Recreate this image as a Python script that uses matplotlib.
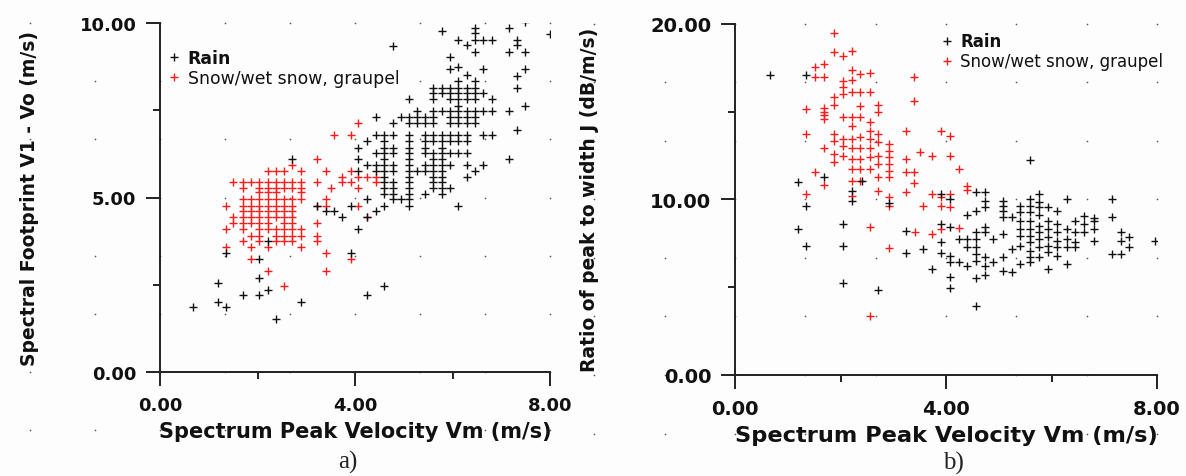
import matplotlib
matplotlib.use("Agg")
import matplotlib.pyplot as plt
from matplotlib.lines import Line2D

# ---------------- data ----------------
# rows: (y value, [x values])
# Panel a: Spectral footprint V1 - Vo vs spectrum peak velocity Vm
rain_a_rows = [
    (10.02, [7.49]), (9.85, [6.46, 7.15]), (9.78, [5.78]), (9.70, [6.46]), (9.68, [8.00]),
    (9.52, [6.12, 6.46, 6.63, 6.80, 7.32]), (9.37, [6.29, 7.32]), (9.35, [4.77]),
    (9.16, [6.46, 7.15, 7.49]), (9.02, [5.95]), (8.73, [6.12]), (8.68, [5.95, 6.63, 7.49]),
    (8.50, [6.29]), (8.49, [7.32]), (8.34, [6.12, 6.46]),
    (8.15, [5.61, 5.78, 5.95, 6.12, 6.29, 6.46, 7.32]),
    (8.00, [5.61, 5.78, 5.95, 6.12, 6.29, 6.46, 6.63]),
    (7.82, [5.11, 5.61, 5.95, 6.12, 6.29, 6.46, 6.80]),
    (7.63, [6.12, 7.49]),
    (7.47, [5.28, 5.61, 5.78, 5.95, 6.12, 6.29, 6.46, 6.63, 6.80, 7.15]),
    (7.30, [4.43, 4.94, 5.11, 5.28, 5.44, 5.61, 5.95, 6.12, 6.29, 6.46]),
    (7.13, [4.77, 5.11, 5.28, 5.44, 5.61, 5.95, 6.12, 6.29, 6.46]),
    (6.94, [7.32]),
    (6.79, [4.43, 4.59, 4.77, 5.11, 5.44, 5.61, 5.78, 5.95, 6.12, 6.29, 6.63, 6.80]),
    (6.61, [4.24, 4.59, 5.11, 5.44, 5.61, 5.78, 5.95, 6.12, 6.29]),
    (6.43, [4.07, 4.59, 4.77, 5.11, 5.44, 5.78]),
    (6.27, [4.43, 4.59, 4.77, 5.11, 5.44, 5.61, 5.78, 5.95, 6.12, 6.29]),
    (6.10, [2.71, 4.07, 4.59, 5.11, 5.61, 5.78, 7.15]),
    (5.94, [4.24, 4.43, 4.59, 4.77, 5.11, 5.44, 5.61, 5.78, 5.95, 6.29, 6.63]),
    (5.76, [4.07, 4.43, 4.59, 4.77, 5.11, 5.28, 5.44, 5.61, 5.78, 6.46]),
    (5.60, [4.59, 5.11, 5.61, 5.78, 6.29]),
    (5.43, [4.59, 4.77, 5.11, 5.61, 5.78]),
    (5.27, [4.59, 4.77, 5.11, 5.61, 5.78, 5.95]),
    (5.10, [4.59, 4.77, 5.11, 5.44, 5.78]),
    (4.95, [4.24, 4.77, 4.94, 5.11]),
    (4.76, [3.23, 3.91, 4.59, 5.11, 6.12]),
    (4.60, [3.41, 3.57, 4.43]),
    (4.43, [3.74, 4.24]),
    (4.09, [4.07]),
    (3.76, [2.21]),
    (3.40, [1.35, 3.91]),
    (3.23, [2.04]),
    (2.70, [2.04]),
    (2.54, [1.18]),
    (2.45, [4.59]),
    (2.35, [2.21]),
    (2.21, [1.70, 2.04, 4.24]),
    (2.02, [1.18, 2.89]),
    (1.87, [0.68, 1.35]),
    (1.53, [2.37]),
]
snow_a_rows = [
    (7.13, [4.07]), (6.79, [3.57, 3.91]), (6.10, [3.23]), (5.94, [2.71]),
    (5.76, [2.21, 2.37, 2.54, 2.89, 3.41, 3.91]),
    (5.60, [3.74, 4.07, 4.24, 4.43]),
    (5.44, [1.50, 1.70, 1.86, 2.04, 2.21, 2.37, 2.54, 2.71, 2.89, 3.23, 3.74, 3.91, 4.43]),
    (5.27, [1.70, 2.04, 2.21, 2.37, 2.54, 2.71, 2.89, 3.51, 4.07]),
    (5.15, [2.04, 2.21, 2.37, 2.89]),
    (4.95, [1.70, 1.86, 2.04, 2.21, 2.37, 2.54, 2.71, 2.89, 3.41]),
    (4.76, [1.35, 1.70, 1.86, 2.04, 2.21, 2.37, 2.54, 2.71, 3.23, 3.41, 4.07]),
    (4.60, [1.70, 1.86, 2.04, 2.21, 2.37, 2.54, 2.71]),
    (4.43, [1.50, 1.70, 1.86, 2.04, 2.21, 2.37, 2.54, 2.71, 4.24]),
    (4.26, [1.50, 1.70, 1.86, 2.04, 2.21, 2.54, 2.71, 3.23]),
    (4.09, [1.35, 1.70, 2.04, 2.21, 2.37, 2.54, 2.71, 2.89]),
    (3.90, [1.86, 2.04, 2.37, 2.54, 2.71, 2.89, 3.23]),
    (3.76, [1.70, 2.04, 2.37, 2.54, 2.71, 3.23]),
    (3.57, [1.35, 1.86, 2.21, 2.89]),
    (3.40, [3.41]),
    (3.23, [1.86, 3.91]),
    (2.88, [2.21, 3.41]),
    (2.47, [2.54]),
]

# Panel b: Ratio of peak to width J vs spectrum peak velocity Vm
rain_b_rows = [
    (17.06, [0.66, 1.35]), (12.26, [5.60]), (11.25, [1.69]), (11.06, [2.40]), (10.99, [1.19]),
    (10.49, [2.21]), (10.44, [4.57]), (10.40, [4.74]), (10.30, [3.90, 5.76]),
    (10.02, [4.08, 5.60, 6.29, 7.15]), (9.92, [2.21, 4.74, 5.09]), (9.83, [5.76]),
    (9.79, [2.91]), (9.64, [5.09, 5.41, 5.60]), (9.60, [1.35]),
    (9.54, [4.74, 5.76, 5.93]), (9.35, [4.57, 5.09, 6.10]), (9.26, [5.41, 5.60]),
    (9.11, [4.40, 5.76]), (9.07, [6.61]), (8.98, [5.09, 5.25, 7.15]), (8.94, [6.80]),
    (8.79, [5.41, 5.60, 5.93, 6.45, 6.80]), (8.60, [3.90, 6.10, 6.61]), (8.58, [2.04]),
    (8.50, [5.76]), (8.44, [4.08]), (8.41, [4.74]), (8.31, [1.19, 5.41, 5.60, 5.93, 6.29, 6.80]),
    (8.22, [3.24]), (8.12, [4.57, 4.74, 5.76, 6.10, 6.45, 6.61, 7.31]), (8.03, [5.09]),
    (7.93, [5.41, 5.60]), (7.84, [5.93, 7.46]), (7.74, [4.24, 4.40, 4.57, 4.90, 5.76, 6.29]),
    (7.65, [6.10, 6.80, 7.31, 7.97]), (7.55, [3.90, 5.60, 6.45]),
    (7.36, [5.41, 5.93]), (7.34, [1.35, 2.04]), (7.27, [4.40, 4.57, 5.76, 6.10, 6.29, 6.45, 7.46]),
    (7.17, [3.56, 5.25]), (7.08, [5.60]), (6.98, [5.93]), (6.93, [3.24, 3.90]),
    (6.89, [4.57, 7.15, 7.31]), (6.79, [4.08, 6.10]), (6.70, [4.74, 5.09, 5.60, 5.76]),
    (6.51, [4.57]), (6.41, [4.08, 4.24, 4.90, 5.60]), (6.32, [5.41, 6.29]),
    (6.22, [4.40, 4.74]), (6.03, [3.73, 5.93]), (5.94, [5.09]), (5.84, [5.25]),
    (5.69, [4.74]), (5.56, [4.08]), (5.50, [4.57]), (5.22, [2.04]), (4.95, [4.08]),
    (4.86, [2.72]), (3.91, [4.57]),
]
snow_b_rows = [
    (20.74, [2.21]), (19.45, [1.88]), (18.46, [2.21]), (18.40, [1.88]), (18.18, [2.04]),
    (17.70, [1.69]), (17.51, [1.52]), (17.38, [2.21]), (17.19, [2.55]), (17.13, [2.37]),
    (16.94, [1.52, 1.69, 3.40]), (16.81, [2.21]), (16.75, [2.04]), (16.37, [2.04]),
    (16.09, [2.37, 2.21, 2.55]), (15.99, [2.04]), (15.80, [1.88]), (15.62, [3.40]),
    (15.37, [1.88, 2.72]), (15.33, [2.37]), (15.20, [1.69]), (15.14, [1.35]),
    (15.00, [1.69, 2.72]), (14.80, [1.69]), (14.66, [2.04, 2.21, 2.37]), (14.60, [1.69]),
    (14.43, [2.55]), (14.20, [2.21]), (13.91, [3.90, 2.55]), (13.87, [3.24]),
    (13.72, [1.35, 1.88, 2.72]), (13.59, [4.08]), (13.53, [2.37]),
    (13.46, [2.04, 2.21, 2.55]), (13.34, [1.88]), (13.27, [2.72]), (13.15, [2.91]),
    (13.05, [2.04]), (12.90, [1.69, 2.21, 2.37, 2.55]), (12.77, [2.91]), (12.68, [3.51]),
    (12.58, [1.88]), (12.49, [2.04, 2.72, 4.08]), (12.45, [3.73]), (12.40, [2.91, 2.55]),
    (12.30, [2.21, 3.24, 2.37]), (12.11, [1.88]), (12.01, [2.72, 2.91]),
    (11.73, [4.25, 2.37, 2.55, 2.21]), (11.62, [2.91]), (11.54, [3.24, 3.40]),
    (11.57, [1.52]), (11.28, [2.72, 2.91]), (11.06, [2.21, 2.37]), (10.91, [3.40]),
    (10.82, [1.69]), (10.78, [4.40]), (10.53, [4.40]), (10.49, [2.72]), (10.44, [3.24]),
    (10.30, [1.35, 3.73, 4.08]), (10.20, [2.21]), (10.11, [2.91, 3.90]),
    (9.64, [2.91, 3.56, 3.90]), (9.54, [4.08]), (8.41, [2.55]), (8.35, [4.25]),
    (8.31, [3.90]), (8.12, [3.42]), (8.03, [3.73]), (7.21, [2.91]), (3.38, [2.55]),
]

x_ticks = [0, 4, 8]
x_tick_labels = ["0.00", "4.00", "8.00"]
ya_ticks = [0, 5, 10]
ya_tick_labels = ["0.00", "5.00", "10.00"]
yb_ticks = [0, 10, 20]
yb_tick_labels = ["0.00", "10.00", "20.00"]
legend_labels = ["Rain", "Snow/wet snow, graupel"]
xlabel = "Spectrum Peak Velocity Vm (m/s)"
ylabel_a = "Spectral Footprint V1 - Vo (m/s)"
ylabel_b = "Ratio of peak to width J (dB/m/s)"


def flatten(rows):
    xs, ys = [], []
    for yv, xl in rows:
        for xv in xl:
            xs.append(xv)
            ys.append(yv)
    return xs, ys


W, H = 1186, 477
fig = plt.figure(figsize=(W / 100, H / 100), dpi=100)
fig.patch.set_facecolor("#fdfdfd")

AX_COL = "#222222"
BLACK = "#111111"
RED = "#ff1a1a"
FONT = "DejaVu Sans"
MS = 5.6
MEW = 1.0


def setup(ax, ymax, yticks, ylabels, yminor, xl, yl, tick_fs, xl_fs, yl_fs, ylpad):
    ax.set_facecolor("#fdfdfd")
    ax.set_xlim(0, 8)
    ax.set_ylim(0, ymax)
    for s in ("top", "right"):
        ax.spines[s].set_visible(False)
    for s in ("left", "bottom"):
        ax.spines[s].set_color(AX_COL)
        ax.spines[s].set_linewidth(1.4)
    ax.set_xticks(x_ticks)
    ax.set_xticklabels(x_tick_labels)
    ax.set_xticks([2, 6], minor=True)
    ax.set_yticks(yticks)
    ax.set_yticklabels(ylabels)
    ax.set_yticks(yminor, minor=True)
    ax.tick_params(axis="both", which="major", length=10, width=1.4, color=AX_COL, pad=7)
    ax.tick_params(axis="both", which="minor", length=5, width=1.4, color=AX_COL)
    for t in ax.get_xticklabels() + ax.get_yticklabels():
        t.set_fontfamily(FONT)
        t.set_fontweight("bold")
        t.set_fontsize(tick_fs)
        t.set_color("#111111")
    ax.set_xlabel(xl, fontsize=xl_fs, fontweight="bold", family=FONT, labelpad=5, color="#111111")
    ax.set_ylabel(yl, fontsize=yl_fs, fontweight="bold", family=FONT, labelpad=ylpad, color="#111111")
    # page dot grid (decoration of the original screenshot)
    for i in range(-2, 7):
        for j in range(-1, 7):
            ax.plot(i / 6, j / 6, marker="o", ms=1.2, color="#555555", mew=0,
                    transform=ax.transAxes, clip_on=False, zorder=0)


def scatter(ax, rain_rows, snow_rows):
    sx, sy = flatten(snow_rows)
    rx, ry = flatten(rain_rows)
    ax.plot(sx, sy, linestyle="none", marker="+", ms=MS, mew=MEW, color=RED, zorder=3)
    ax.plot(rx, ry, linestyle="none", marker="+", ms=MS, mew=MEW, color=BLACK, zorder=4)


def legend(ax, anchor, fs):
    handles = [Line2D([], [], linestyle="none", marker="+", ms=MS, mew=MEW, color=BLACK),
               Line2D([], [], linestyle="none", marker="+", ms=MS, mew=MEW, color=RED)]
    leg = ax.legend(handles, legend_labels, loc="upper left", bbox_to_anchor=anchor,
                    frameon=False, handlelength=0.6, handletextpad=0.5, labelspacing=0.12,
                    borderpad=0, borderaxespad=0, prop={"family": FONT, "size": fs})
    leg.get_texts()[0].set_fontweight("bold")
    for t in leg.get_texts():
        t.set_color("#111111")


# Panel a
ax1 = fig.add_axes([160 / W, 1 - 373 / H, 390 / W, 349 / H])
setup(ax1, 10, ya_ticks, ya_tick_labels, [2.5, 7.5], xlabel, ylabel_a,
      tick_fs=13, xl_fs=15, yl_fs=13.5, ylpad=29)
scatter(ax1, rain_a_rows, snow_a_rows)
legend(ax1, (0.022, 0.925), 12.4)

# Panel b
ax2 = fig.add_axes([735 / W, 1 - 376 / H, 422 / W, 351.3 / H])
setup(ax2, 20, yb_ticks, yb_tick_labels, [5, 15], xlabel, ylabel_b,
      tick_fs=14, xl_fs=16.2, yl_fs=13.5, ylpad=37)
scatter(ax2, rain_b_rows, snow_b_rows)
legend(ax2, (0.49, 0.975), 12)

fig.text(348 / W, 1 - 462 / H, "a)", ha="center", va="center", fontsize=18,
         family="Liberation Serif", color="#222222")
fig.text(953 / W, 1 - 463 / H, "b)", ha="center", va="center", fontsize=18,
         family="Liberation Serif", color="#222222")

fig.savefig("out.png", dpi=100, facecolor=fig.get_facecolor())
